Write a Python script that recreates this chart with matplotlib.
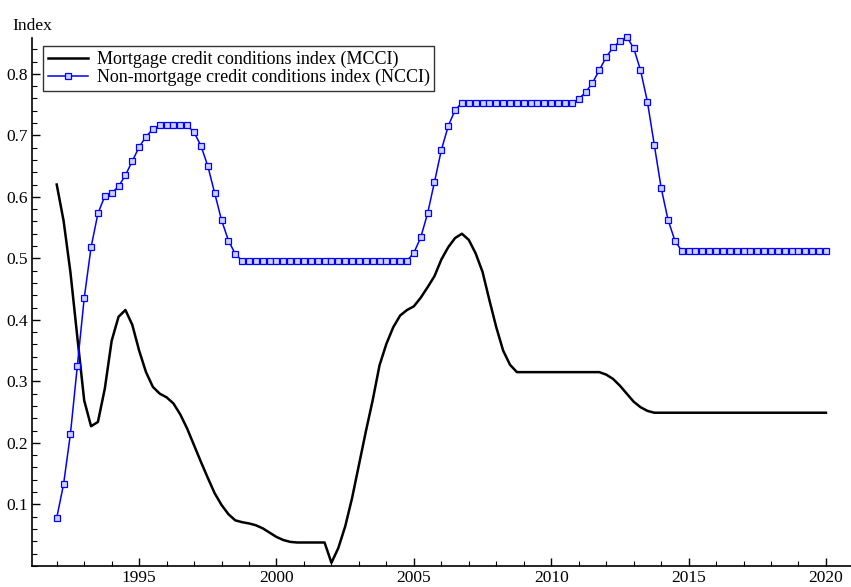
import numpy as np
import matplotlib
matplotlib.use("Agg")
import matplotlib.pyplot as plt
from matplotlib.ticker import MultipleLocator

# quarterly observations, 1992Q1 .. 2020Q1
quarters = np.arange(113) * 0.25 + 1992.0

mcci = [
    0.620, 0.561, 0.477, 0.372,  # 1992
    0.269, 0.227, 0.234, 0.288,  # 1993
    0.366, 0.405, 0.416, 0.392,  # 1994
    0.350, 0.315, 0.291, 0.280,  # 1995
    0.274, 0.264, 0.246, 0.223,  # 1996
    0.196, 0.169, 0.143, 0.118,  # 1997
    0.099, 0.084, 0.074, 0.071,  # 1998
    0.069, 0.066, 0.061, 0.054,  # 1999
    0.047, 0.042, 0.039, 0.038,  # 2000
    0.038, 0.038, 0.038, 0.038,  # 2001
    0.005, 0.029, 0.064, 0.110,  # 2002
    0.164, 0.218, 0.269, 0.326,  # 2003
    0.361, 0.388, 0.407, 0.416,  # 2004
    0.422, 0.436, 0.453, 0.471,  # 2005
    0.498, 0.518, 0.533, 0.540,  # 2006
    0.530, 0.508, 0.478, 0.432,  # 2007
    0.388, 0.350, 0.327, 0.315,  # 2008
    0.315, 0.315, 0.315, 0.315,  # 2009
    0.315, 0.315, 0.315, 0.315,  # 2010
    0.315, 0.315, 0.315, 0.315,  # 2011
    0.311, 0.304, 0.293, 0.280,  # 2012
    0.267, 0.258, 0.252, 0.249,  # 2013
    0.249, 0.249, 0.249, 0.249,  # 2014
    0.249, 0.249, 0.249, 0.249,  # 2015
    0.249, 0.249, 0.249, 0.249,  # 2016
    0.249, 0.249, 0.249, 0.249,  # 2017
    0.249, 0.249, 0.249, 0.249,  # 2018
    0.249, 0.249, 0.249, 0.249,  # 2019
    0.249,                       # 2020
]

ncci = [
    0.078, 0.133, 0.215, 0.325,  # 1992
    0.435, 0.518, 0.573, 0.601,  # 1993
    0.606, 0.617, 0.635, 0.658,  # 1994
    0.681, 0.698, 0.710, 0.716,  # 1995
    0.716, 0.716, 0.716, 0.716,  # 1996
    0.705, 0.683, 0.650, 0.606,  # 1997
    0.562, 0.529, 0.507, 0.496,  # 1998
    0.496, 0.496, 0.496, 0.496,  # 1999
    0.496, 0.496, 0.496, 0.496,  # 2000
    0.496, 0.496, 0.496, 0.496,  # 2001
    0.496, 0.496, 0.496, 0.496,  # 2002
    0.496, 0.496, 0.496, 0.496,  # 2003
    0.496, 0.496, 0.496, 0.496,  # 2004
    0.509, 0.534, 0.573, 0.624,  # 2005
    0.676, 0.715, 0.741, 0.753,  # 2006
    0.753, 0.753, 0.753, 0.753,  # 2007
    0.753, 0.753, 0.753, 0.753,  # 2008
    0.753, 0.753, 0.753, 0.753,  # 2009
    0.753, 0.753, 0.753, 0.753,  # 2010
    0.759, 0.770, 0.785, 0.806,  # 2011
    0.827, 0.843, 0.853, 0.860,  # 2012
    0.842, 0.806, 0.755, 0.685,  # 2013
    0.615, 0.563, 0.529, 0.512,  # 2014
    0.512, 0.512, 0.512, 0.512,  # 2015
    0.512, 0.512, 0.512, 0.512,  # 2016
    0.512, 0.512, 0.512, 0.512,  # 2017
    0.512, 0.512, 0.512, 0.512,  # 2018
    0.512, 0.512, 0.512, 0.512,  # 2019
    0.512,                       # 2020
]

x_ticks = [1995, 2000, 2005, 2010, 2015, 2020]
y_ticks = [0.1, 0.2, 0.3, 0.4, 0.5, 0.6, 0.7, 0.8]

plt.rcParams['font.family'] = ['Liberation Serif', 'DejaVu Serif']
plt.rcParams['font.size'] = 12.5

fig = plt.figure(figsize=(8.51, 5.87), dpi=100)
ax = fig.add_axes([0.0376, 0.036, 0.962, 0.899])

ax.plot(quarters, mcci, color='black', lw=1.8,
        label='Mortgage credit conditions index (MCCI)')
ax.plot(quarters, ncci, color='#0000ff', lw=1.1, marker='s', ms=4.2,
        mfc='#d0d0ff', mec='#0000ff', mew=0.9, clip_on=False,
        label='Non-mortgage credit conditions index (NCCI)')

ax.set_xlim(1991.1, 2020.9)
ax.set_ylim(0.0, 0.858)
ax.set_xticks(x_ticks)
ax.set_yticks(y_ticks)
ax.xaxis.set_minor_locator(MultipleLocator(1))
ax.yaxis.set_minor_locator(MultipleLocator(0.02))
ax.tick_params(which='major', direction='in', length=6, width=1)
ax.tick_params(which='minor', direction='in', length=3.5, width=0.8)
ax.tick_params(axis='x', pad=3)
ax.tick_params(axis='y', pad=3)

for s in ['top', 'right']:
    ax.spines[s].set_visible(False)
ax.spines['left'].set_linewidth(1.2)
ax.spines['bottom'].set_linewidth(1.2)

fig.text(0.015, 0.955, 'Index', fontsize=12.5, va='center', ha='left')

leg = ax.legend(loc='upper left', bbox_to_anchor=(0.014, 0.985), frameon=True,
                fancybox=False, framealpha=1, edgecolor='#333333',
                handlelength=2.2, borderpad=0.25, labelspacing=0.05,
                handletextpad=0.5, borderaxespad=0, fontsize=13)
leg.get_frame().set_linewidth(1.0)

fig.savefig('out.png', dpi=100)
